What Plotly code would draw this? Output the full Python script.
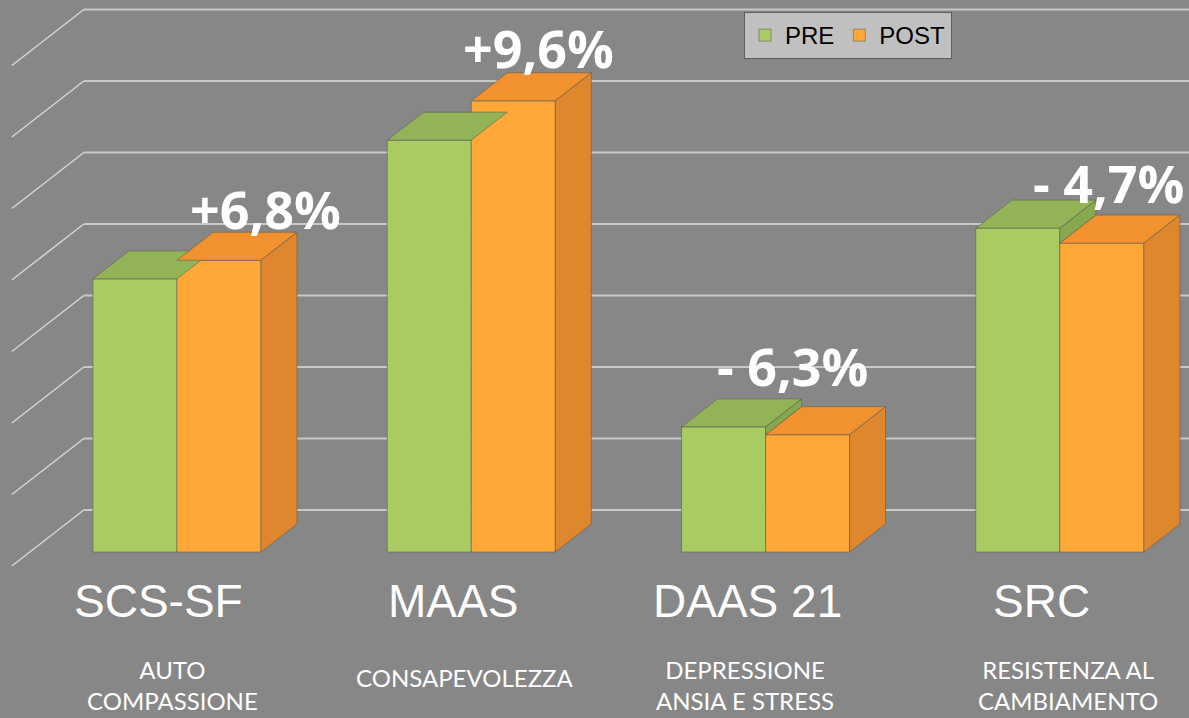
import plotly.graph_objects as go

# ---- data ----
categories = ["SCS-SF", "MAAS", "DAAS 21", "SRC"]
subtitles = ["AUTO<br>COMPASSIONE", "CONSAPEVOLEZZA", "DEPRESSIONE<br>ANSIA E STRESS", "RESISTENZA AL<br>CAMBIAMENTO"]
pre_values = [3.82, 5.76, 1.75, 4.53]
post_values = [4.08, 6.31, 1.64, 4.32]
change_labels = ["+6,8%", "+9,6%", "- 6,3%", "- 4,7%"]
grid_values = [0, 1, 2, 3, 4, 5, 6, 7]

# ---- style / layout parameters ----
W, H = 1189, 718
BG = "#878787"
X_RANGE = [-0.6014, 3.4387]
Y_RANGE = [-2.3217, 7.7203]
px_x = W / (X_RANGE[1] - X_RANGE[0])
px_y = H / (Y_RANGE[1] - Y_RANGE[0])
DX = 36 / px_x          # oblique depth vector (one bar depth)
DY = 28 / px_y
BW = 0.2855             # bar width in category units
WALL_X = -0.5
FRONT_D, BACK_D = -0.5, 1.5

GREEN_FRONT, GREEN_TOP, GREEN_SIDE = "#A8CC62", "#93B357", "#86A84E"
ORANGE_FRONT, ORANGE_TOP, ORANGE_SIDE = "#FFA838", "#F2922F", "#DE872D"
EDGE = "rgba(90,90,90,0.55)"

label_xshift = [89, 67, 27, 49]
label_yshift = [24, 25, 33, 18]
sub_xshift = [-4, -6, -21, 8]

xs = list(range(len(categories)))

fig = go.Figure()

# front faces
fig.add_trace(go.Bar(name="PRE", x=xs, y=pre_values, width=BW, offset=-BW,
                     marker=dict(color=GREEN_FRONT, line=dict(color=EDGE, width=1)),
                     hoverinfo="skip"))
fig.add_trace(go.Bar(name="POST", x=xs, y=post_values, width=BW, offset=0,
                     marker=dict(color=ORANGE_FRONT, line=dict(color=EDGE, width=1)),
                     hoverinfo="skip"))


def poly_trace(pts_list, color):
    px, py = [], []
    for pts in pts_list:
        for (a, b) in pts:
            px.append(a)
            py.append(b)
        px.append(pts[0][0]); py.append(pts[0][1])
        px.append(None); py.append(None)
    return go.Scatter(x=px, y=py, mode="lines", fill="toself", fillcolor=color,
                      line=dict(color=EDGE, width=1), showlegend=False, hoverinfo="skip")


green_side, green_top, orange_top, orange_side = [], [], [], []
for i, (hp, ho) in enumerate(zip(pre_values, post_values)):
    gl = i - BW
    gr = i
    lower = min(hp, ho)
    if hp > ho:
        green_side.append([(gr, lower), (gr + DX, lower + DY), (gr + DX, hp + DY), (gr, hp)])
    green_top.append([(gl, hp), (gl + DX, hp + DY), (gr + DX, hp + DY), (gr, hp)])
    ol, orr = i, i + BW
    orange_top.append([(ol, ho), (ol + DX, ho + DY), (orr + DX, ho + DY), (orr, ho)])
    orange_side.append([(orr, 0), (orr + DX, DY), (orr + DX, ho + DY), (orr, ho)])

if green_side:
    fig.add_trace(poly_trace(green_side, GREEN_SIDE))
fig.add_trace(poly_trace(green_top, GREEN_TOP))
fig.add_trace(poly_trace(orange_top, ORANGE_TOP))
fig.add_trace(poly_trace(orange_side, ORANGE_SIDE))

# gridlines (back wall + left wall)
shapes = []
for v in grid_values:
    xb = WALL_X + BACK_D * DX
    yb = v + BACK_D * DY
    shapes.append(dict(type="line", xref="x", yref="y", x0=xb, y0=yb, x1=X_RANGE[1] + 1, y1=yb,
                       line=dict(color="#C8C8C8", width=2), layer="below"))
    shapes.append(dict(type="line", xref="x", yref="y",
                       x0=WALL_X + FRONT_D * DX, y0=v + FRONT_D * DY, x1=xb, y1=yb,
                       line=dict(color="#D6D6D6", width=1.5), layer="below"))

annotations = []
for i, (hp, ho) in enumerate(zip(pre_values, post_values)):
    top = max(hp, ho) + DY
    annotations.append(dict(x=i, y=top, xref="x", yref="y", text=change_labels[i], showarrow=False,
                            xshift=label_xshift[i], yshift=label_yshift[i], yanchor="middle",
                            font=dict(family="Open Sans", size=52, color="white", weight="bold")))
    annotations.append(dict(x=i + FRONT_D * DX, y=1 - 601 / H, xref="x", yref="paper",
                            text=categories[i], showarrow=False, yanchor="middle",
                            font=dict(family="Liberation Sans, Arial", size=46, color="white")))
    sub_y = 1 - 677 / H if "<br>" not in subtitles[i] else 1 - 685 / H
    annotations.append(dict(x=i, y=sub_y, xref="x", yref="paper", text=subtitles[i],
                            showarrow=False, xshift=sub_xshift[i], yanchor="middle",
                            font=dict(family="Lato", size=24, color="white")))

fig.update_layout(
    width=W, height=H,
    margin=dict(l=0, r=0, t=0, b=0),
    paper_bgcolor=BG, plot_bgcolor=BG,
    barmode="overlay",
    xaxis=dict(range=X_RANGE, visible=False, fixedrange=True),
    yaxis=dict(range=Y_RANGE, visible=False, fixedrange=True),
    shapes=shapes, annotations=annotations,
    showlegend=True,
    legend=dict(orientation="h", x=744 / W, y=1 - 12 / H, xanchor="left", yanchor="top",
                bgcolor="#C0C0C0", bordercolor="#5E5E5E", borderwidth=1,
                font=dict(family="Liberation Sans, Arial", size=24, color="black"),
                itemwidth=30, tracegroupgap=0),
)

fig.write_html("out.html", config={"displayModeBar": False},
               post_script="document.body.style.margin='0';document.body.style.overflow='hidden';")
